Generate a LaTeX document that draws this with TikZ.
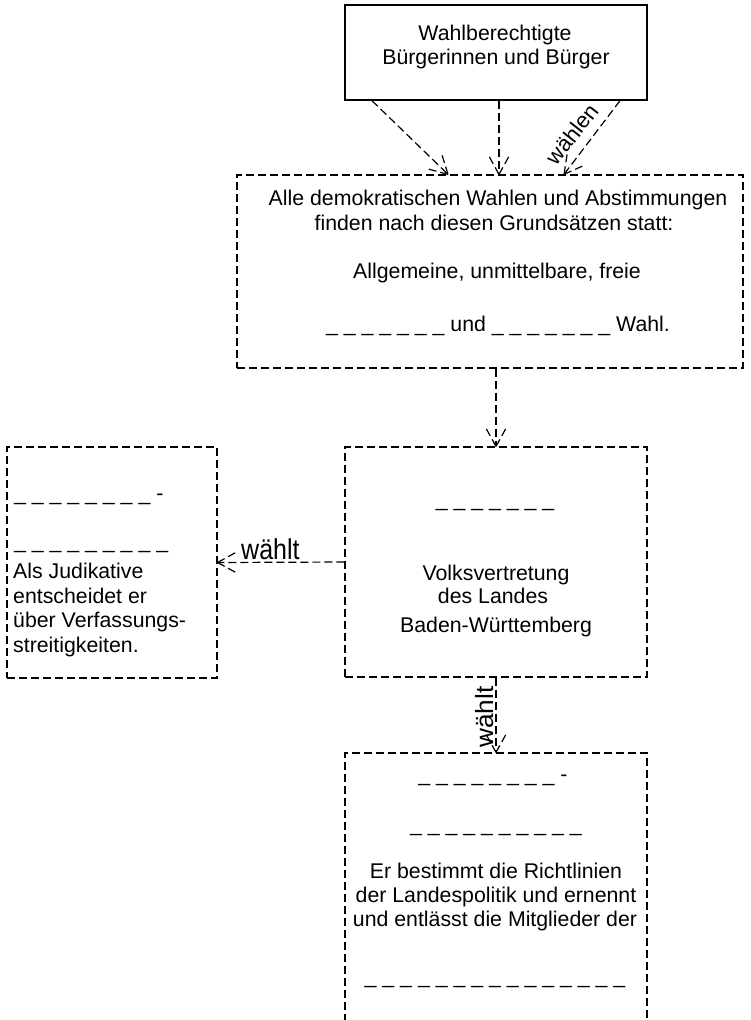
\documentclass[tikz,border=0pt]{standalone}
\usepackage{fontspec}
\setmainfont{Liberation Sans}
\usetikzlibrary{arrows.meta,decorations.markings}
\newcommand{\blanks}[1]{\foreach \i in {1,...,#1}{\ifnum\i>1\ \fi\_}}
\begin{document}
\begin{tikzpicture}[x=1pt,y=-1pt,
  txt/.style={font=\fontsize{21.3}{24}\selectfont, inner sep=0pt, anchor=base},
  ltxt/.style={txt, anchor=base west},
  dbox/.style={draw, line width=1.2pt, dash pattern=on 8pt off 4pt, inner sep=0pt},
  sbox/.style={draw, line width=1.4pt, inner sep=0pt},
  conn/.style={line width=1.2pt, dash pattern=on 8pt off 4pt,
    postaction={decorate},
    decoration={markings, mark=at position 1 with {
      \draw[line width=1.2pt, dash pattern=on 8pt off 4pt] (0pt,0pt) -- (-20pt,11pt) (0pt,0pt) -- (-20pt,-11pt);}}},
  lbl/.style={font=\fontsize{25}{25}\selectfont, inner sep=0pt},
]
\clip (0,0) rectangle (750,1020);
\useasboundingbox (0,0) rectangle (750,1020);

% boxes
\node[sbox, minimum width=302pt, minimum height=95pt] (voters) at (496,52.5) {};
\node[dbox, minimum width=506pt, minimum height=193pt] (main) at (490,271.5) {};
\node[dbox, minimum width=302pt, minimum height=230pt] (mid) at (496,562) {};
\node[dbox, minimum width=210pt, minimum height=231pt] (left) at (112,562.5) {};
\node[dbox, minimum width=302pt, minimum height=287pt] (bot) at (496,896.5) {};

% top box text
\node[txt] (v1) at (495,40) {Wahlberechtigte};
\node[txt] (v2) at (496,64) {Bürgerinnen und Bürger};

% main box text
\node[txt] (m1) at (498,205) {Alle demokratischen Wahlen und Abstimmungen};
\node[txt] (m2) at (494,230) {finden nach diesen Grundsätzen statt:};
\node[txt] (m3) at (497,278) {Allgemeine, unmittelbare, freie};
\node[txt] (m4) at (498,331) {\blanks{7} und \blanks{7} Wahl.};

% middle box text
\node[txt] (k1) at (495,506) {\blanks{7}};
\node[txt] (k2) at (496,580) {Volksvertretung};
\node[txt] (k3) at (493,603) {des Landes};
\node[txt] (k4) at (496,632) {Baden-Württemberg};

% left box text
\node[ltxt] (l1) at (14,500) {\blanks{8} -};
\node[ltxt] (l2) at (14,548) {\blanks{9}};
\node[ltxt] (l3) at (13,578) {Als Judikative};
\node[ltxt] (l4) at (13,603) {entscheidet er};
\node[ltxt] (l5) at (13,627) {über Verfassungs-};
\node[ltxt] (l6) at (13,652) {streitigkeiten.};

% bottom box text
\node[txt] (b1) at (493,781) {\blanks{8} -};
\node[txt] (b2) at (496,831) {\blanks{10}};
\node[txt] (b3) at (496,878) {Er bestimmt die Richtlinien};
\node[txt] (b4) at (496,902) {der Landespolitik und ernennt};
\node[txt] (b5) at (495,926) {und entlässt die Mitglieder der};
\node[txt] (b6) at (495,983) {\blanks{15}};

% connectors
\draw[conn] ([xshift=-124pt]voters.south) -- ([xshift=-42pt]main.north);
\draw[conn] ([xshift=3pt]voters.south) -- ([xshift=9pt]main.north);
\draw[conn] ([xshift=124pt]voters.south) -- ([xshift=74pt]main.north);
\draw[conn] (mid.north |- main.south) -- (mid.north);
\draw[conn] (mid.west) -- (left.east);
\draw[conn] (mid.south) -- (bot.north);

% labels
\node[lbl, font=\fontsize{22}{22}\selectfont, rotate=52] (wA) at (572,134) {wählen};
\node[lbl, anchor=base west, yscale=1.15] (wB) at (241,559) {wählt};
\node[lbl, anchor=base west, rotate=90, xscale=1.05] (wC) at (493,748) {wählt};
\end{tikzpicture}
\end{document}
